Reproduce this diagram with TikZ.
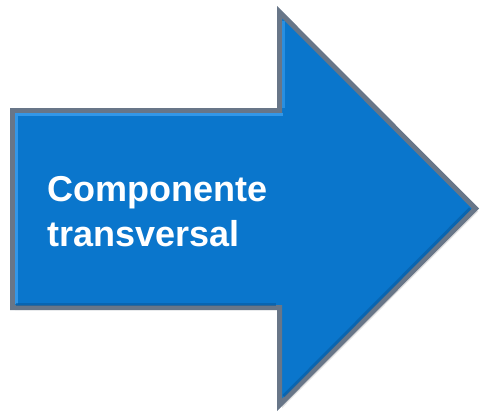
\documentclass[tikz,border=0pt]{standalone}
\usepackage{fontspec}
\setmainfont{Liberation Sans}
\definecolor{arrowblue}{RGB}{10,118,204}
\definecolor{arrowedge}{RGB}{104,118,136}
\definecolor{arrowlight}{RGB}{60,160,240}
\definecolor{arrowdark}{RGB}{8,90,160}
\tikzset{
  arrowbody/.style={fill=arrowblue, draw=arrowedge, line width=5pt, line join=miter},
  label/.style={font=\fontsize{36}{45}\selectfont\bfseries, text=white, align=left, inner sep=0pt}
}
\begin{document}
\begin{tikzpicture}[x=1pt,y=-1pt]
\useasboundingbox (0,0) rectangle (481,412);
\coordinate (A) at (12.5,110.5);
\coordinate (B) at (279.5,110.5);
\coordinate (C) at (279.5,12);
\coordinate (D) at (475.5,208.5);
\coordinate (E) at (279.5,405);
\coordinate (F) at (279.5,307.5);
\coordinate (G) at (12.5,307.5);
\fill[black!25, opacity=0.5] (15,113) -- (282,113) -- (282,15) -- (478,211.5) -- (282,408) -- (282,310) -- (15,310) -- cycle;
\path[arrowbody] (A) -- (B) -- (C) -- (D) -- (E) -- (F) -- (G) -- cycle;
% bevel highlights
\draw[arrowlight, line width=3pt, opacity=0.8] (16,304) -- (16,114.5) -- (283,114.5);
\draw[arrowlight, line width=3pt, opacity=0.6] (283.5,21.5) -- (283.5,108);
\draw[arrowdark, line width=3pt, opacity=0.6] (16,304) -- (276,304);
\draw[arrowdark, line width=3pt, opacity=0.6] (283.5,396) -- (470,208.5);
\node[label, anchor=north west] (txt) at (47,176) {Componente\\transversal};
\end{tikzpicture}
\end{document}
